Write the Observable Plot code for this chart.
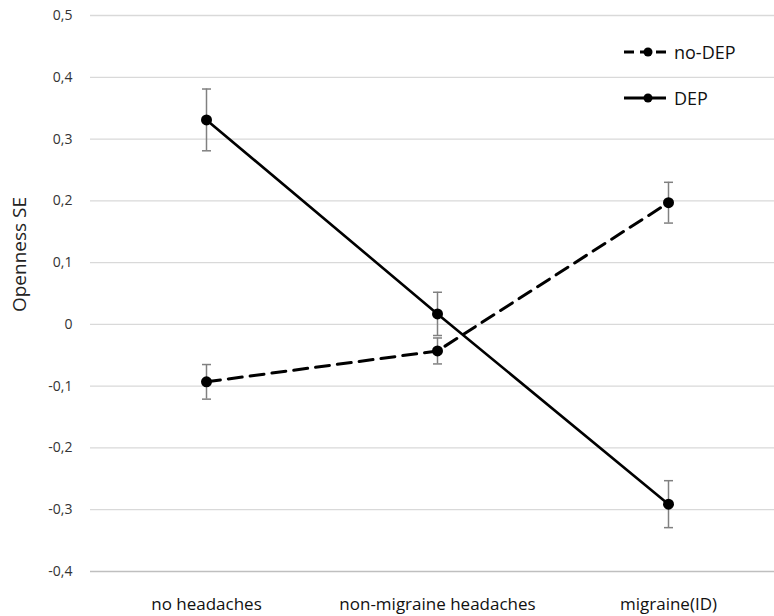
<!DOCTYPE html>
<html>
<head>
<meta charset="utf-8">
<script src="https://cdn.jsdelivr.net/npm/d3@7"></script>
<script src="https://cdn.jsdelivr.net/npm/@observablehq/plot@0.6"></script>
<style>
  html, body { margin: 0; padding: 0; background: #fff; }
  #wrap { position: relative; width: 774px; height: 616px; font-family: "Open Sans", sans-serif; }
  #legend { position: absolute; left: 622px; top: 38px; font-family: "Open Sans", sans-serif; font-size: 18px; color: #111; }
  #legend .row { display: flex; align-items: center; height: 28px; margin-bottom: 18px; }
  #legend svg { margin-right: 6px; }
</style>
</head>
<body>
<div id="wrap"><div id="legend"></div></div>
<script>
const categories = ["no headaches", "non-migraine headaches", "migraine(ID)"];
const seriesNames = ["no-DEP", "DEP"];
const noDepValues = [-0.093, -0.043, 0.197];
const noDepErr = [0.028, 0.021, 0.033];
const depValues = [0.331, 0.017, -0.291];
const depErr = [0.050, 0.035, 0.038];
const yTicks = [-0.4, -0.3, -0.2, -0.1, 0, 0.1, 0.2, 0.3, 0.4, 0.5];

const rows = [];
categories.forEach((c, i) => {
  rows.push({cat: c, series: "no-DEP", v: noDepValues[i], e: noDepErr[i]});
  rows.push({cat: c, series: "DEP", v: depValues[i], e: depErr[i]});
});

const capSymbol = {
  draw(ctx, size) {
    const r = Math.sqrt(size / Math.PI);
    ctx.moveTo(-r, 0);
    ctx.lineTo(r, 0);
  }
};

const fmt = d => Math.abs(d) < 1e-9 ? "0" : (d < 0 ? "-" : "") + Math.abs(d).toFixed(1).replace(".", ",");

const chart = Plot.plot({
  width: 774,
  height: 616,
  marginLeft: 90,
  marginRight: 0,
  marginTop: 15,
  marginBottom: 45,
  style: {fontFamily: "Open Sans, sans-serif", background: "#fff"},
  x: {type: "point", domain: categories, range: [205, 668], padding: 0, label: null},
  y: {domain: [-0.4, 0.5], label: null},
  marks: [
    Plot.ruleY(yTicks.filter(d => d !== -0.4), {stroke: "#d9d9d9", strokeWidth: 1.3}),
    Plot.ruleY([-0.4], {stroke: "#bfbfbf", strokeWidth: 1.5}),
    Plot.axisY({ticks: yTicks, tickFormat: fmt, tickSize: 0, tickPadding: 18, fontSize: 14, fill: "#333"}),
    Plot.axisX({tickSize: 0, tickPadding: 26, fontSize: 17, fill: "#111"}),
    Plot.text(["Openness SE"], {frameAnchor: "left", textAnchor: "middle", dx: -71, dy: -39, rotate: -90, fontSize: 19, fill: "#222"}),
    Plot.ruleX(rows, {x: "cat", y1: d => d.v - d.e, y2: d => d.v + d.e, stroke: "#808080", strokeWidth: 1.5}),
    Plot.dot(rows, {x: "cat", y: d => d.v - d.e, symbol: capSymbol, r: 4.5, stroke: "#808080", strokeWidth: 1.5}),
    Plot.dot(rows, {x: "cat", y: d => d.v + d.e, symbol: capSymbol, r: 4.5, stroke: "#808080", strokeWidth: 1.5}),
    Plot.line(rows.filter(d => d.series === "no-DEP"), {x: "cat", y: "v", stroke: "#000", strokeWidth: 3, strokeDasharray: "14,8"}),
    Plot.line(rows.filter(d => d.series === "DEP"), {x: "cat", y: "v", stroke: "#000", strokeWidth: 2.6}),
    Plot.dot(rows, {x: "cat", y: "v", r: 5.5, fill: "#000"})
  ]
});
const wrap = document.getElementById("wrap");
wrap.insertBefore(chart, wrap.firstChild);

const legend = document.getElementById("legend");
seriesNames.forEach(name => {
  const row = document.createElement("div");
  row.className = "row";
  const dash = name === "no-DEP" ? 'stroke-dasharray="10,6"' : "";
  row.innerHTML = `<svg width="46" height="12"><line x1="2" x2="44" y1="6" y2="6" stroke="#000" stroke-width="3" ${dash}/><circle cx="26" cy="6" r="4.5" fill="#000"/></svg><span>${name}</span>`;
  legend.appendChild(row);
});
</script>
</body>
</html>
